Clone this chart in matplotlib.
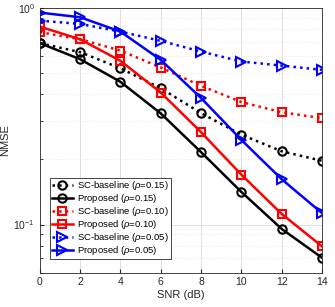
import matplotlib
matplotlib.use("Agg")
import matplotlib.pyplot as plt
from matplotlib.ticker import LogLocator, NullFormatter, FixedLocator

plt.rcParams['font.family'] = ['Liberation Sans', 'DejaVu Sans']
plt.rcParams['mathtext.fontset'] = 'custom'
plt.rcParams['mathtext.rm'] = 'Liberation Sans'
plt.rcParams['mathtext.it'] = 'Liberation Sans:italic'

snr = [0, 2, 4, 6, 8, 10, 12, 14]
sc_015 = [0.688, 0.625, 0.527, 0.426, 0.327, 0.260, 0.218, 0.197]
prop_015 = [0.688, 0.580, 0.456, 0.326, 0.216, 0.1415, 0.0955, 0.0703]
sc_010 = [0.773, 0.717, 0.636, 0.531, 0.437, 0.368, 0.330, 0.310]
prop_010 = [0.820, 0.717, 0.570, 0.407, 0.267, 0.170, 0.112, 0.0794]
sc_005 = [0.874, 0.844, 0.778, 0.705, 0.629, 0.566, 0.542, 0.518]
prop_005 = [0.952, 0.906, 0.778, 0.576, 0.384, 0.246, 0.162, 0.113]
labels = [r'SC-baseline ($\rho$=0.15)', r'Proposed ($\rho$=0.15)',
          r'SC-baseline ($\rho$=0.10)', r'Proposed ($\rho$=0.10)',
          r'SC-baseline ($\rho$=0.05)', r'Proposed ($\rho$=0.05)']

fig = plt.figure(figsize=(3.35, 3.07), dpi=100)
ax = fig.add_axes([0.119, 0.112, 0.842, 0.862])

series = [(sc_015, 'k', 'o', ':'), (prop_015, 'k', 'o', '-'),
          (sc_010, 'red', 's', ':'), (prop_010, 'red', 's', '-'),
          (sc_005, 'blue', '>', ':'), (prop_005, 'blue', '>', '-')]
msizes = {'o': 6.0, 's': 5.5, '>': 6.8}
for (vals, c, m, ls), lab in zip(series, labels):
    ax.plot(snr, vals, color=c, marker=m, linestyle=ls, linewidth=1.8,
            markersize=msizes[m], markerfacecolor='none',
            markeredgewidth=1.5, label=lab)

ax.set_yscale('log')
ax.set_xlim(0, 14)
ax.set_ylim(0.06, 1)
ax.set_xticks(snr)
ax.yaxis.set_major_locator(FixedLocator([0.1, 1]))
ax.yaxis.set_minor_locator(LogLocator(base=10, subs=range(2, 10)))
ax.yaxis.set_minor_formatter(NullFormatter())
ax.grid(True, which='major', color='#d9d9d9', linewidth=0.6)
ax.grid(True, which='minor', axis='y', color='#e3e3e3', linewidth=0.6, linestyle=':')
ax.tick_params(which='both', direction='in', labelsize=7.5, colors='#262626',
               labelcolor='#262626')
ax.tick_params(which='minor', length=2)
ax.tick_params(which='major', length=3)
for s in ax.spines.values():
    s.set_color('#262626')
    s.set_linewidth(0.6)
ax.set_xlabel('SNR (dB)', fontsize=8, color='#262626', labelpad=2)
ax.set_ylabel('NMSE', fontsize=8, color='#262626', labelpad=2)

leg = ax.legend(loc='lower left', bbox_to_anchor=(0.035, 0.05), fontsize=6.8,
                numpoints=1, handlelength=2.3, handletextpad=0.4,
                labelspacing=0.0, borderpad=0.2, fancybox=False,
                framealpha=1, edgecolor='#262626', borderaxespad=0)
leg.get_frame().set_linewidth(0.6)

fig.savefig('out.png', dpi=100)
